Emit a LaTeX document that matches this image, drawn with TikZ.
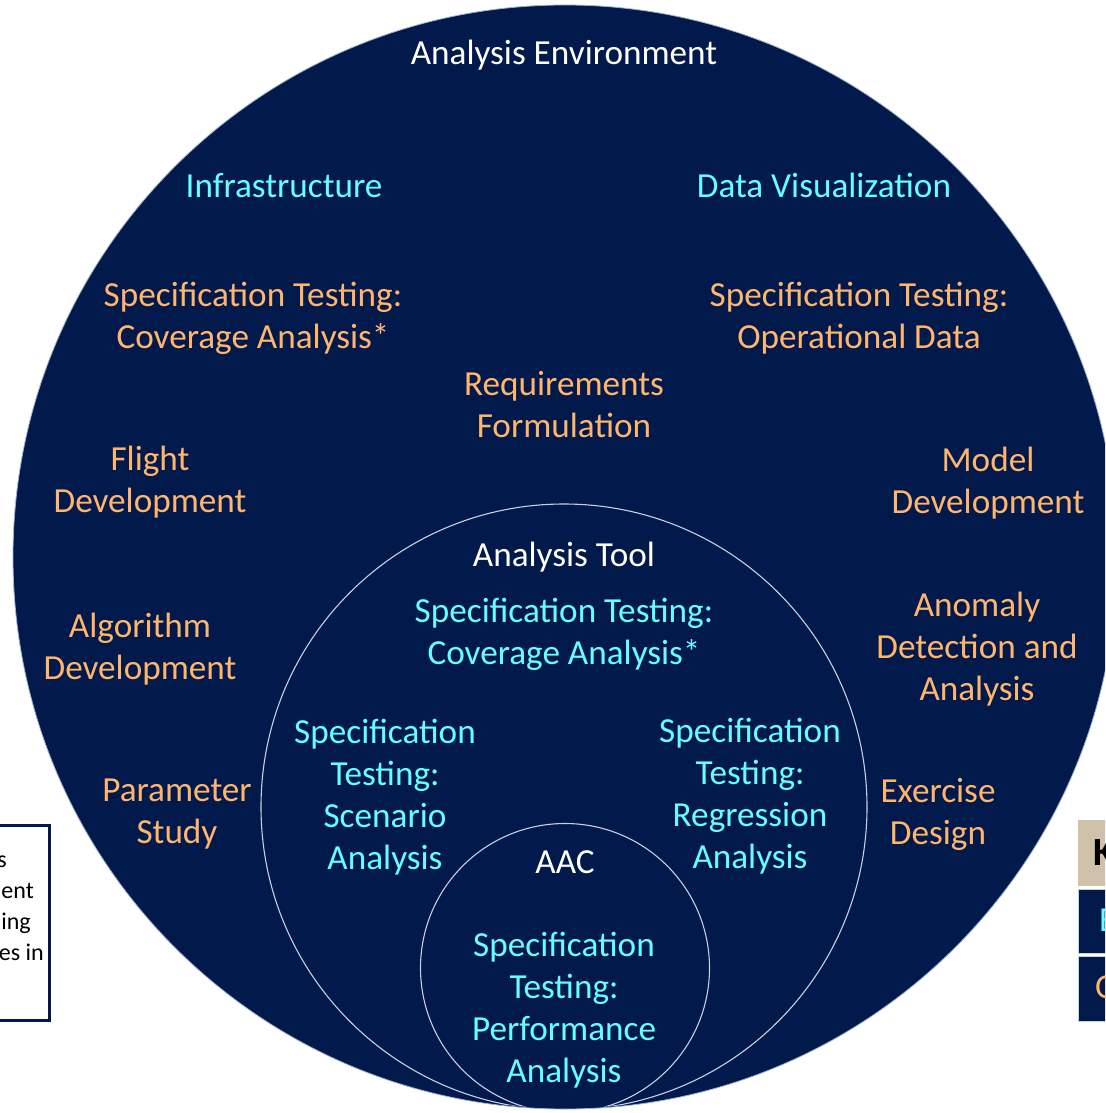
\documentclass[tikz,border=0pt]{standalone}
\usepackage{fontspec}
\setmainfont{Carlito}
\definecolor{navy}{RGB}{1,25,75}
\definecolor{cyantxt}{RGB}{102,255,255}
\definecolor{orangetxt}{RGB}{255,182,108}
\definecolor{ringline}{RGB}{200,208,222}
\definecolor{tan}{RGB}{207,193,170}
\tikzset{
  lbl/.style={align=center, inner sep=0pt, font=\fontsize{35.2}{42}\selectfont},
  title/.style={lbl, text=white},
  task/.style={lbl, text=orangetxt},
  spec/.style={lbl, text=cyantxt},
  ring/.style={draw=ringline, line width=1.1pt},
  sidetxt/.style={inner sep=0pt, font=\fontsize{24}{31}\selectfont, text=black},
}
\begin{document}
\begin{tikzpicture}[x=1pt,y=-1pt]
\clip (0,0) rectangle (1105,1113);
\fill[white] (0,0) rectangle (1105,1113);
% left legend box (partially visible)
\draw[navy, line width=3pt, fill=white] (-10,825) rectangle (49,1020);
\node[sidetxt, anchor=base east] (l1) at (7,867) {s};
\node[sidetxt, anchor=base east] (l2) at (34,898) {ent};
\node[sidetxt, anchor=base east] (l3) at (31,929) {ing};
\node[sidetxt, anchor=base east] (l4) at (44,960) {es in};
% outer circle
\fill[navy, draw={rgb,255:red,160;green,178;blue,205}, line width=0.8pt] (565,557) circle[radius=552pt];
\begin{scope}
  \clip (565,557) circle[radius=551pt];
  \draw[ring] (564,807) circle[radius=303pt];
  \draw[ring] (565,968) circle[radius=144.5pt];
\end{scope}
% right key (partially visible)
\fill[tan] (1078,820) rectangle (1120,886);
\fill[navy, draw=ringline, line width=0.6pt] (1078,889) rectangle (1120,953);
\fill[navy, draw=ringline, line width=0.6pt] (1078,956) rectangle (1120,1021);
\node[inner sep=0pt, anchor=west, font=\fontsize{40}{44}\selectfont\bfseries, text=black] (k1) at (1093,853) {K};
\node[inner sep=0pt, anchor=west, font=\fontsize{35}{42}\selectfont, text=cyantxt] (k2) at (1099,920) {E};
\node[inner sep=0pt, anchor=west, font=\fontsize{35}{42}\selectfont, text=orangetxt] (k3) at (1095,987) {O};
% outer labels
\node[title] (env) at (564,55) {Analysis Environment};
\node[spec] (infra) at (284,186) {Infrastructure};
\node[spec] (dataviz) at (824,185) {Data Visualization};
\node[task] (cov1) at (253,318) {Specification Testing:\\Coverage Analysis*};
\node[task] (opdata) at (859,318) {Specification Testing:\\Operational Data};
\node[task] (req) at (564,405) {Requirements\\Formulation};
\node[task] (flight) at (150,482) {Flight\\Development};
\node[task] (model) at (988,483) {Model\\Development};
\node[task] (algo) at (140,649) {Algorithm\\Development};
\node[task] (anom) at (977,649) {Anomaly\\Detection and\\Analysis};
\node[task] (param) at (177,814) {Parameter\\Study};
\node[task] (exer) at (938,814) {Exercise\\Design};
% analysis tool
\node[title] (tool) at (564,557) {Analysis Tool};
\node[spec] (cov2) at (564,634) {Specification Testing:\\Coverage Analysis*};
\node[spec] (scen) at (385,797) {Specification\\Testing:\\Scenario\\Analysis};
\node[spec] (regr) at (750,796) {Specification\\Testing:\\Regression\\Analysis};
% AAC
\node[title] (aac) at (565,862) {AAC};
\node[spec] (perf) at (564,1010) {Specification\\Testing:\\Performance\\Analysis};
\end{tikzpicture}
\end{document}
